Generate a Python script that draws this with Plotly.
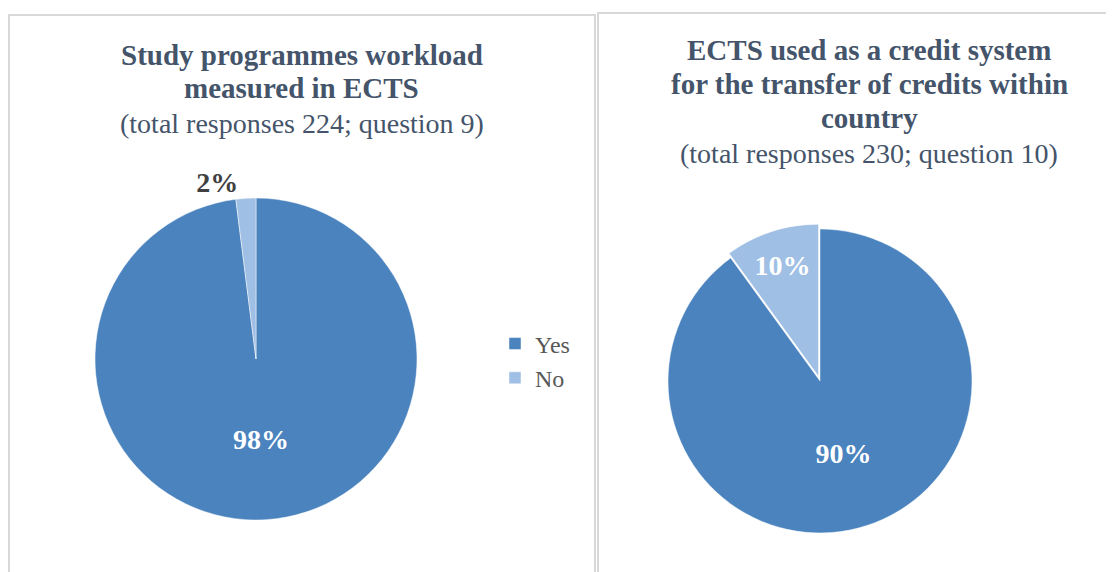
import plotly.graph_objects as go

categories = ["Yes", "No"]
q9_values = [98, 2]
q10_values = [90, 10]

q9_title_lines = ["<b>Study programmes workload</b>", "<b>measured in ECTS</b>",
                  "(total responses 224; question 9)"]
q10_title_lines = ["<b>ECTS used as a credit system</b>", "<b>for the transfer of credits within</b>",
                   "<b>country</b>", "(total responses 230; question 10)"]

# page has an 8px body margin; figure sized to fill the rest of the window
OFF = 8
W, H = 1114 - OFF, 572 - OFF
slice_colors = ["#4a83be", "#a0bfe4"]
serif = "Liberation Serif"
title_color = "#44546a"


def px_x(v):
    return (v - OFF) / W


def px_y(v):
    return 1 - (v - OFF) / H


fig = go.Figure()

fig.add_trace(go.Pie(
    labels=categories, values=q9_values, sort=False, direction="clockwise", rotation=0,
    marker=dict(colors=slice_colors, line=dict(color="rgba(255,255,255,0.6)", width=0.8)),
    texttemplate="<b>%{percent:.0%}</b>", textposition=["inside", "outside"],
    insidetextorientation="horizontal",
    textfont=dict(family=serif, size=28, color=["white", "#404040"]),
    domain=dict(x=[px_x(95), px_x(417)], y=[px_y(520), px_y(198)]),
    legend="legend", hoverinfo="label+percent",
))

fig.add_trace(go.Pie(
    labels=categories, values=q10_values, sort=False, direction="clockwise", rotation=0,
    pull=[0, 0.033],
    marker=dict(colors=slice_colors, line=dict(color="rgba(255,255,255,0.6)", width=0.8)),
    texttemplate="<b>%{percent:.0%}</b>", textposition="inside",
    insidetextorientation="horizontal",
    textfont=dict(family=serif, size=28, color="white"),
    domain=dict(x=[px_x(663), px_x(977)], y=[px_y(538), px_y(224)]),
    legend="legend2", hoverinfo="label+percent",
))

legend_common = dict(font=dict(family=serif, size=24, color="#595959"),
                     bgcolor="rgba(0,0,0,0)", itemwidth=30, xanchor="left", yanchor="middle",
                     traceorder="normal")

annotations = []
for line, yc in zip(q9_title_lines, [55, 88, 124]):
    annotations.append(dict(text=line, xref="paper", yref="paper", x=px_x(302), y=px_y(yc),
                            xanchor="center", yanchor="middle", showarrow=False,
                            font=dict(family=serif, size=29 if "<b>" in line else 28, color=title_color)))
for line, yc in zip(q10_title_lines, [50, 84, 118, 153]):
    annotations.append(dict(text=line, xref="paper", yref="paper", x=px_x(869), y=px_y(yc),
                            xanchor="center", yanchor="middle", showarrow=False,
                            font=dict(family=serif, size=29 if "<b>" in line else 28, color=title_color)))

fig.update_layout(
    width=W, height=H,
    margin=dict(l=0, r=0, t=0, b=0),
    paper_bgcolor="white",
    showlegend=True,
    legend=dict(x=px_x(495), y=px_y(361), **legend_common),
    legend2=dict(x=px_x(1028), y=px_y(375), **legend_common),
    shapes=[
        dict(type="rect", xref="paper", yref="paper", x0=px_x(9), x1=px_x(595), y0=px_y(580), y1=px_y(15),
             line=dict(color="#d9d9d9", width=2), fillcolor="rgba(0,0,0,0)", layer="below"),
        dict(type="rect", xref="paper", yref="paper", x0=px_x(598), x1=px_x(1125), y0=px_y(580), y1=px_y(13),
             line=dict(color="#d9d9d9", width=2), fillcolor="rgba(0,0,0,0)", layer="below"),
    ],
    annotations=annotations,
)

fig.write_html("out.html")
